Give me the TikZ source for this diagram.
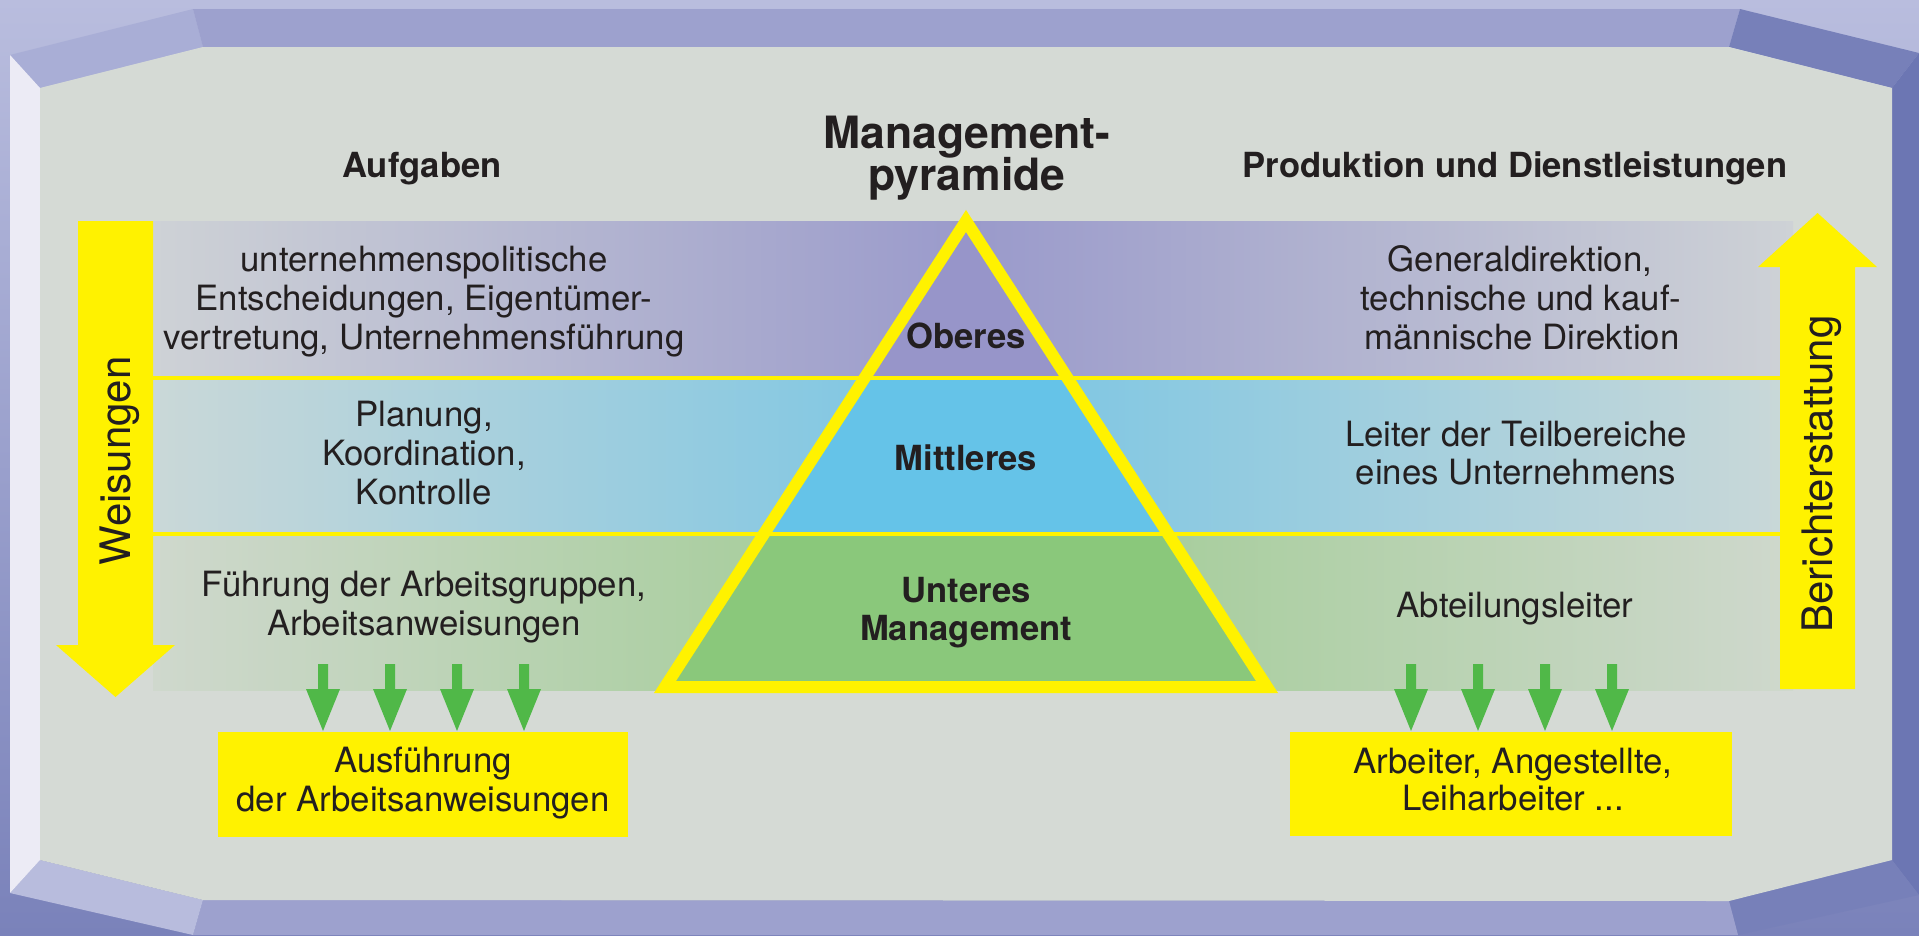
\documentclass[tikz,border=0pt]{standalone}
\usepackage{fontspec}
\setmainfont{TeX Gyre Heros}
\definecolor{bgtop}{HTML}{B9BDDE}
\definecolor{bgbot}{HTML}{7A82BA}
\definecolor{bevTL}{HTML}{A9AED6}
\definecolor{stripH}{HTML}{9DA1CE}
\definecolor{bevTR}{HTML}{7780B9}
\definecolor{stripR}{HTML}{6C76B3}
\definecolor{bevBL}{HTML}{B8BCDD}
\definecolor{stripL}{HTML}{ECEBF5}
\definecolor{panel}{HTML}{D5DAD5}
\definecolor{topE}{HTML}{CED2D6}
\definecolor{topM}{HTML}{9A9ACB}
\definecolor{midE}{HTML}{CAD8D8}
\definecolor{midM}{HTML}{78C5E4}
\definecolor{botE}{HTML}{CFD8CD}
\definecolor{botM}{HTML}{9CCB8F}
\definecolor{triTop}{HTML}{9795C9}
\definecolor{triMid}{HTML}{65C3E8}
\definecolor{triBot}{HTML}{8AC87B}
\definecolor{yel}{HTML}{FFF200}
\definecolor{grn}{HTML}{50B848}
\definecolor{ink}{HTML}{231F20}
\tikzset{
  txt/.style={font=\fontsize{34.8}{39}\selectfont, text=ink, inner sep=0pt, anchor=base},
  hd/.style={font=\fontsize{34.6}{39}\selectfont\bfseries, text=ink, inner sep=0pt, anchor=base},
  ttl/.style={font=\fontsize{44.5}{44}\selectfont\bfseries, text=ink, inner sep=0pt, anchor=base},
  vt/.style={font=\fontsize{42}{44}\selectfont, text=ink, inner sep=0pt, rotate=90},
  ybox/.style={fill=yel, inner sep=0pt},
  garrow/.style={fill=grn},
}
\begin{document}
\begin{tikzpicture}[x=1pt,y=-1pt,line join=miter]
\useasboundingbox (0,0) rectangle (1919,935);
% background and frame
\shade[top color=bgtop,bottom color=bgbot] (0,0) rectangle (1919,935);
\fill[bevTL] (10,55) -- (193,9) -- (203,47) -- (40,88) -- cycle;
\fill[stripH] (193,9) -- (1740,9) -- (1729,47) -- (203,47) -- cycle;
\fill[bevTR] (1740,9) -- (1919,53) -- (1892,88) -- (1729,47) -- cycle;
\fill[stripR] (1919,53) -- (1919,895) -- (1892,860) -- (1892,88) -- cycle;
\fill[bevTR] (1892,860) -- (1919,895) -- (1738,935) -- (1729,901) -- cycle;
\fill[stripH] (1729,901) -- (1738,935) -- (193,935) -- (203,900) -- cycle;
\fill[bevBL] (203,900) -- (193,935) -- (10,893) -- (40,860) -- cycle;
\fill[stripL] (10,55) -- (40,88) -- (40,860) -- (10,893) -- cycle;
\fill[panel] (40,88) -- (203,47) -- (1729,47) -- (1892,88) -- (1892,860) -- (1729,901) -- (203,900) -- (40,860) -- cycle;
% bands
\shade[left color=topE,right color=topE,middle color=topM] (153,221) rectangle (1793,378);
\shade[left color=midE,right color=midE,middle color=midM] (153,378) rectangle (1793,534);
\shade[left color=botE,right color=botE,middle color=botM] (153,534) rectangle (1793,690);
% pyramid
\coordinate (apex) at (966,221);
\coordinate (bl) at (665,687);
\coordinate (br) at (1267,687);
\begin{scope}
\clip (apex) -- (bl) -- (br) -- cycle;
\fill[triTop] (600,200) rectangle (1300,378);
\fill[triMid] (600,378) rectangle (1300,534);
\fill[triBot] (600,534) rectangle (1300,700);
\end{scope}
\draw[yel,line width=3.5] (153,378) -- (1780,378);
\draw[yel,line width=3.5] (153,534) -- (1780,534);
\draw[yel,line width=12] (apex) -- (bl) -- (br) -- cycle;
% big arrows
\fill[yel] (78,221) -- (153,221) -- (153,645) -- (175,645) -- (115.5,697) -- (56,645) -- (78,645) -- cycle;
\fill[yel] (1780,689) -- (1855,689) -- (1855,267) -- (1877,267) -- (1817.5,213) -- (1758,267) -- (1780,267) -- cycle;
\node[vt] (weis) at (120,461) {Weisungen};
\node[vt] (ber) at (1822,474) {Berichterstattung};
% green arrows
\foreach \x in {323,390,457,524,1411,1478,1545,1612}{
  \fill[garrow] ({\x-5},664) -- ({\x+5},664) -- ({\x+5},689) -- ({\x+17},689) -- (\x,731) -- ({\x-17},689) -- ({\x-5},689) -- cycle;
}
% boxes
\node[ybox, minimum width=410pt, minimum height=105pt] (boxL) at (423,784.5) {};
\node[ybox, minimum width=442pt, minimum height=104pt] (boxR) at (1511,784) {};
% titles
\node[ttl] (mp1) at (967,148) {Management-};
\node[ttl] (mp2) at (967,190) {pyramide};
\node[hd] (aufg) at (422,177) {Aufgaben};
\node[hd] (prod) at (1515,177) {Produktion und Dienstleistungen};
% left texts
\node[txt] (l1) at (424,271) {unternehmenspolitische};
\node[txt] (l2) at (424,310) {Entscheidungen, Eigentümer-};
\node[txt] (l3) at (424,349) {vertretung, Unternehmensführung};
\node[txt] (l4) at (424,426) {Planung,};
\node[txt] (l5) at (424,465) {Koordination,};
\node[txt] (l6) at (424,504) {Kontrolle};
\node[txt] (l7) at (424,596) {Führung der Arbeitsgruppen,};
\node[txt] (l8) at (424,635) {Arbeitsanweisungen};
% right texts
\node[txt] (r1) at (1520,271) {Generaldirektion,};
\node[txt] (r2) at (1521,310) {technische und kauf-};
\node[txt] (r3) at (1522,349) {männische Direktion};
\node[txt] (r4) at (1516,446) {Leiter der Teilbereiche};
\node[txt] (r5) at (1516,484) {eines Unternehmens};
\node[txt] (r6) at (1515,617) {Abteilungsleiter};
% pyramid labels
\node[hd] (p1) at (966,348) {Oberes};
\node[hd] (p2) at (966,470) {Mittleres};
\node[hd] (p3) at (966,602) {Unteres};
\node[hd] (p4) at (966,640) {Management};
% box texts
\node[txt] (b1) at (423,772) {Ausführung};
\node[txt] (b2) at (423,811) {der Arbeitsanweisungen};
\node[txt] (b3) at (1513,773) {Arbeiter, Angestellte,};
\node[txt] (b4) at (1513,810) {Leiharbeiter ...};
\end{tikzpicture}
\end{document}
